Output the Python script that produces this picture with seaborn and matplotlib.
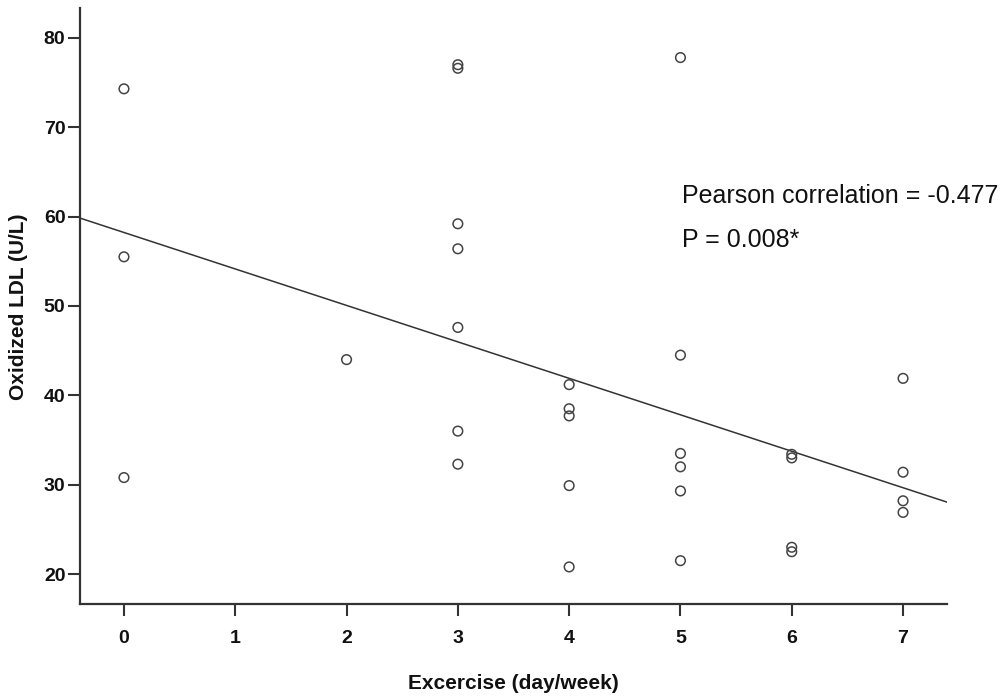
import matplotlib
matplotlib.use("Agg")
import matplotlib.pyplot as plt
import seaborn as sns
import pandas as pd

# Exercise frequency (days per week) and oxidized LDL level (U/L) per subject
exercise_days = [0, 0, 0,
                 2,
                 3, 3, 3, 3, 3, 3, 3,
                 4, 4, 4, 4, 4,
                 5, 5, 5, 5, 5, 5,
                 6, 6, 6, 6,
                 7, 7, 7, 7]
oxidized_ldl = [74.3, 55.5, 30.8,
                44.0,
                77.0, 76.6, 59.2, 56.4, 47.6, 36.0, 32.3,
                41.2, 38.5, 37.7, 29.9, 20.8,
                77.8, 44.5, 33.5, 32.0, 29.3, 21.5,
                33.4, 33.0, 23.0, 22.5,
                41.9, 31.4, 28.2, 26.9]

x_ticks = [0, 1, 2, 3, 4, 5, 6, 7]
y_ticks = [20, 30, 40, 50, 60, 70, 80]
stats_lines = ["Pearson correlation = -0.477", "P = 0.008*"]

df = pd.DataFrame({"exercise": exercise_days, "oxldl": oxidized_ldl})

sns.set_style("ticks")
plt.rcParams["font.family"] = ["Liberation Sans", "DejaVu Sans"]

ink = "#333333"
fig = plt.figure(figsize=(10.05, 6.99), dpi=100)
ax = fig.add_axes([0.0796, 0.1359, 0.8627, 0.8527])

ax.set_xlim(-0.395, 7.395)
ax.set_ylim(16.65, 83.35)

# Fitted least-squares line across the full x range
sns.regplot(data=df, x="exercise", y="oxldl", ax=ax, ci=None, truncate=False,
            scatter=False, line_kws={"color": ink, "linewidth": 1.1})

sns.scatterplot(data=df, x="exercise", y="oxldl", ax=ax, marker="o", s=48,
                facecolors="none", edgecolor="#444444", linewidth=1.1, zorder=3)

ax.set_xticks(x_ticks)
ax.set_yticks(y_ticks)
ax.tick_params(axis="both", direction="out", length=8.5, width=1.5, color=ink,
               labelsize=14, labelcolor="#111111")
ax.tick_params(axis="x", pad=10.5)
ax.tick_params(axis="y", pad=2)
for lab in ax.get_xticklabels() + ax.get_yticklabels():
    lab.set_fontweight("bold")

for side in ("top", "right"):
    ax.spines[side].set_visible(False)
for side in ("left", "bottom"):
    ax.spines[side].set_linewidth(1.6)
    ax.spines[side].set_color(ink)

ax.set_xlabel("Excercise (day/week)", fontsize=15, fontweight="bold", color="#111111")
ax.set_ylabel("Oxidized LDL (U/L)", fontsize=15, fontweight="bold", color="#111111")
ax.xaxis.label.set_va("center")
ax.yaxis.label.set_va("center")
ax.xaxis.set_label_coords(0.4994, -0.1326)
ax.yaxis.set_label_coords(-0.0704, 0.498)

ax.text(5.01, 61.56, stats_lines[0], fontsize=18, color="#111111", va="baseline", ha="left")
ax.text(5.01, 56.65, stats_lines[1], fontsize=18, color="#111111", va="baseline", ha="left")

fig.savefig("out.png", dpi=100, facecolor="white")
